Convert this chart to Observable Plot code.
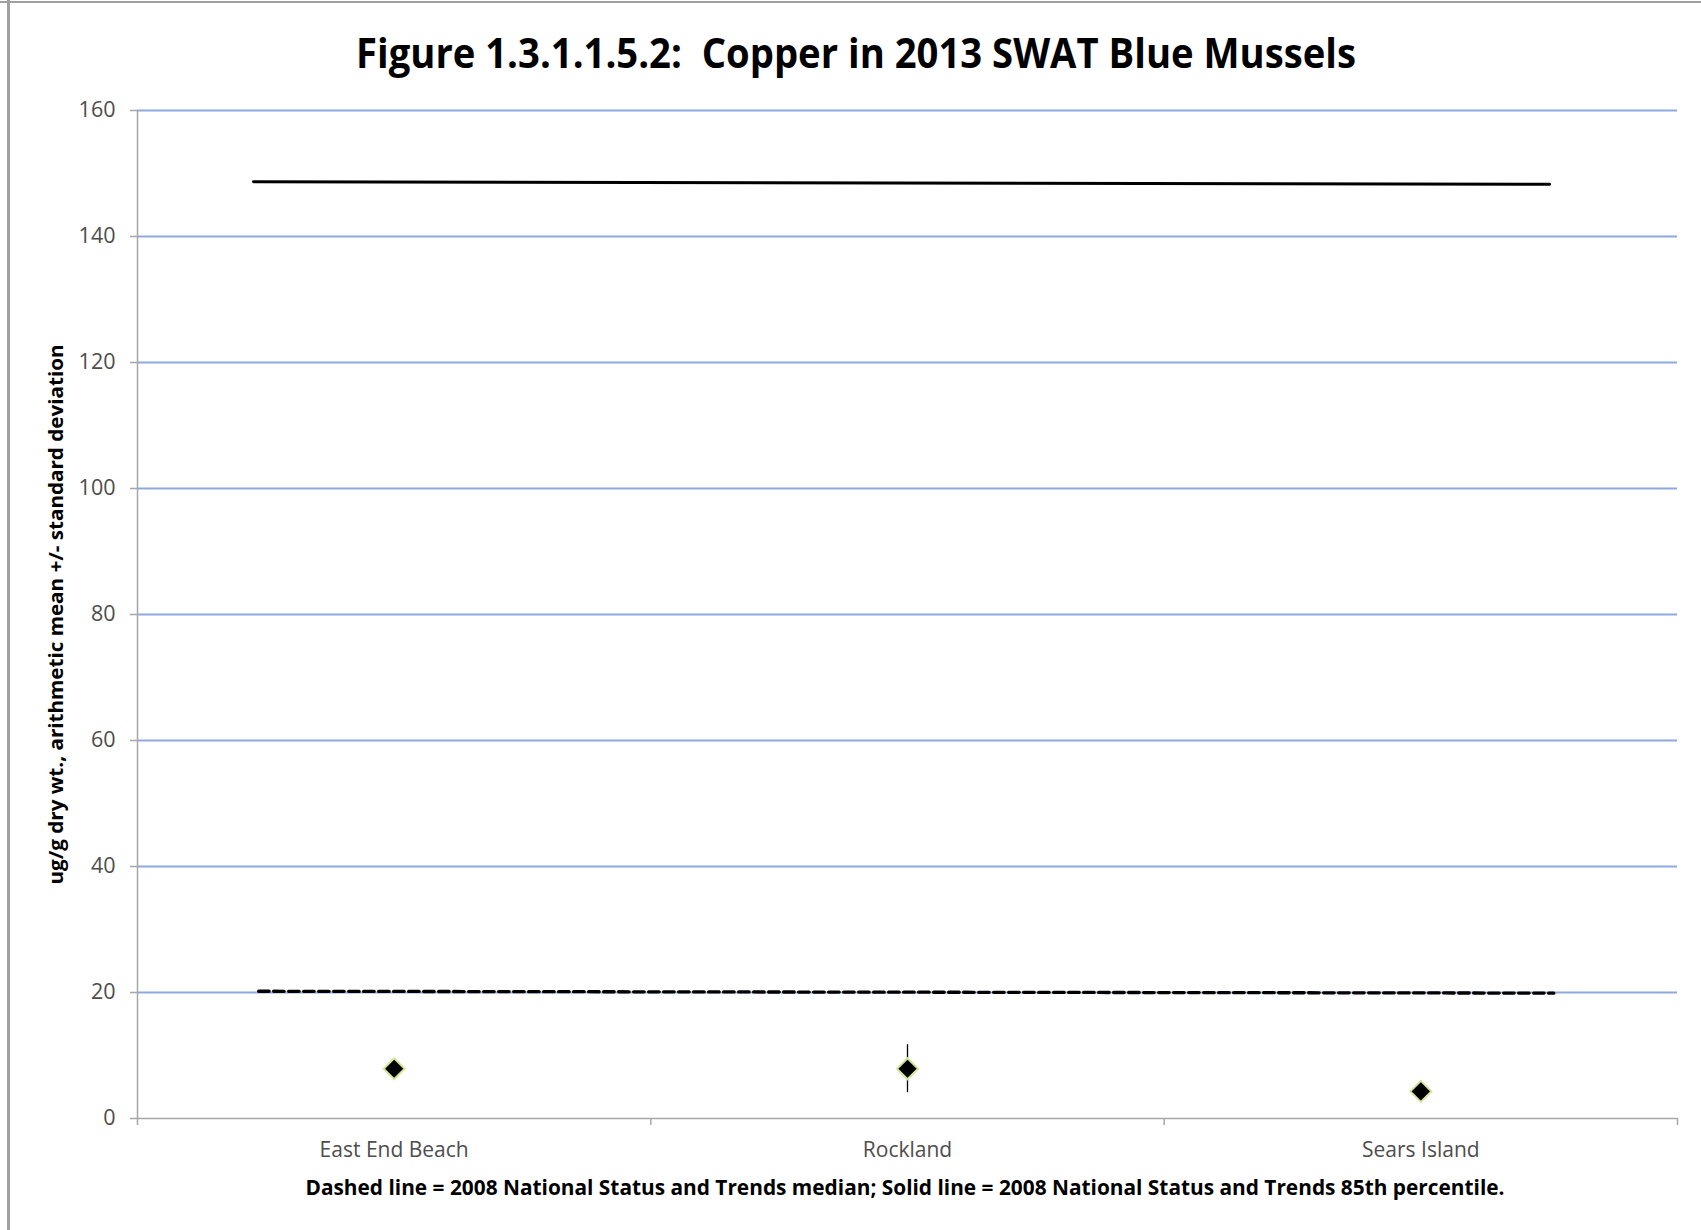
<!DOCTYPE html>
<html>
<head>
<meta charset="utf-8">
<script src="https://cdn.jsdelivr.net/npm/d3@7"></script>
<script src="https://cdn.jsdelivr.net/npm/@observablehq/plot@0.6"></script>
<style>
  body { margin: 0; background: #fff; }
  #page { position: relative; width: 1701px; height: 1230px; overflow: hidden; background: #fff; font-family: "Open Sans", sans-serif; }
  .abs { position: absolute; }
</style>
</head>
<body>
<div id="page">
  <div class="abs" style="left:0;top:1px;width:1701px;height:2px;background:#a0a0a0"></div>
  <div class="abs" style="left:7px;top:0;width:3px;height:1230px;background:#a0a0a0"></div>
  <svg id="head" class="abs" style="left:0;top:0" width="1701" height="90"></svg>
  <div id="chart" class="abs" style="left:0;top:90px"></div>
  <svg id="foot" class="abs" style="left:0;top:1170px" width="1701" height="60"></svg>
</div>
<script>
// ---- data ----
const titleText = "Figure 1.3.1.1.5.2:  Copper in 2013 SWAT Blue Mussels";
const yLabel = "ug/g dry wt., arithmetic mean +/- standard deviation";
const captionText = "Dashed line = 2008 National Status and Trends median; Solid line = 2008 National Status and Trends 85th percentile.";
const categories = ["East End Beach", "Rockland", "Sears Island"];
const means = [7.9, 7.9, 4.3];
const sds = [0.8, 3.8, 0.6];
const yTicks = [0, 20, 40, 60, 80, 100, 120, 140, 160];
const gridTicks = [20, 40, 60, 80, 100, 120, 140, 160];
// reference lines (x in category units, 0..3)
const medianX = [0.236, 2.759];
const medianY = [20.2, 19.9];
const p85X = [0.226, 2.751];
const p85Y = [148.7, 148.3];

const pts = categories.map((c, i) => ({cat: c, x: i + 0.5, mean: means[i], lo: means[i] - sds[i], hi: means[i] + sds[i]}));
const medianLine = medianX.map((x, i) => ({x, y: medianY[i]}));
const p85Line = p85X.map((x, i) => ({x, y: p85Y[i]}));

const axisGrey = "#a6a6a6";
const labelGrey = "#4d4d4d";

const chart = Plot.plot({
  width: 1701,
  height: 1080,
  marginTop: 20,
  marginBottom: 52,
  marginLeft: 137,
  marginRight: 24,
  style: {fontFamily: "'Open Sans', sans-serif", fontSize: "21px", background: "transparent"},
  x: {domain: [0, 3], axis: null, label: null},
  y: {domain: [0, 160], axis: null, label: null},
  marks: [
    Plot.gridY(gridTicks, {stroke: "#8DAAE0", strokeOpacity: 1, strokeWidth: 2}),
    Plot.ruleX([0], {stroke: axisGrey, strokeWidth: 1.5}),
    Plot.ruleY([0], {stroke: axisGrey, strokeWidth: 1.5}),
    Plot.axisY(yTicks, {tickSize: 7, tickPadding: 15, stroke: axisGrey, fill: labelGrey, fontSize: 21.5, strokeWidth: 1.5, label: null}),
    Plot.axisX([0, 1, 2, 3], {tickSize: 7, tickFormat: () => "", stroke: axisGrey, strokeWidth: 1.5, label: null}),
    Plot.axisX(pts.map(d => d.x), {tickSize: 0, tickPadding: 24, tickFormat: d => categories[Math.floor(d)], fill: labelGrey, fontSize: 21, label: null}),
    Plot.text([yLabel], {frameAnchor: "left", dx: -81, rotate: -90, text: d => d, fontWeight: "bold", fontSize: 19, fill: "#000", textAnchor: "middle"}),
    Plot.line(medianLine, {x: "x", y: "y", stroke: "#000", strokeWidth: 3.3, strokeDasharray: "10.5,4.5"}),
    Plot.line(p85Line, {x: "x", y: "y", stroke: "#000", strokeWidth: 3}),
    Plot.ruleX(pts, {x: "x", y1: "lo", y2: "hi", stroke: "#000", strokeWidth: 1.3}),
    Plot.dot(pts, {x: "x", y: "mean", symbol: "diamond2", r: 9.5, fill: "#000", stroke: "#d2e69c", strokeWidth: 2})
  ]
});
document.getElementById("chart").appendChild(chart);

// y label length
chart.querySelectorAll("text").forEach(t => {
  if (t.textContent === yLabel) { t.setAttribute("textLength", 540); t.setAttribute("lengthAdjust", "spacingAndGlyphs"); }
});

const NS = "http://www.w3.org/2000/svg";
function addText(svg, str, x, y, size, len) {
  const t = document.createElementNS(NS, "text");
  t.setAttribute("x", x); t.setAttribute("y", y);
  t.setAttribute("text-anchor", "middle");
  t.setAttribute("font-family", "'Open Sans', sans-serif");
  t.setAttribute("font-weight", "bold");
  t.setAttribute("font-size", size);
  t.setAttribute("fill", "#000");
  t.setAttribute("textLength", len);
  t.setAttribute("lengthAdjust", "spacingAndGlyphs");
  t.style.whiteSpace = "pre";
  t.textContent = str;
  svg.appendChild(t);
}
addText(document.getElementById("head"), titleText, 856, 68, 42, 1000);
addText(document.getElementById("foot"), captionText, 905, 25, 21, 1199);
</script>
</body>
</html>
